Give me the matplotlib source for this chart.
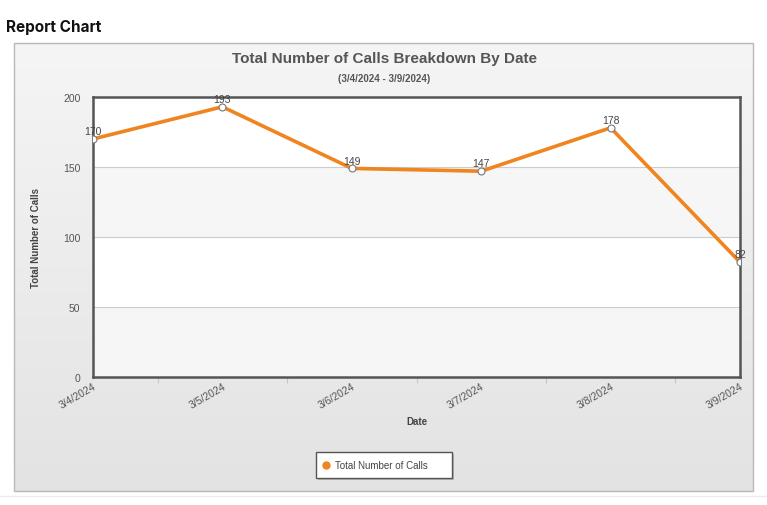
import numpy as np
import matplotlib.pyplot as plt
from matplotlib.patches import Rectangle

dates = ["3/4/2024", "3/5/2024", "3/6/2024", "3/7/2024", "3/8/2024", "3/9/2024"]
calls = [170, 193, 149, 147, 178, 82]
yticks = [0, 50, 100, 150, 200]

W, H = 767, 506
fig = plt.figure(figsize=(W / 100, H / 100), dpi=100)
plt.rcParams['font.family'] = ['Liberation Sans', 'DejaVu Sans']

# background layer in pixel coords
bg = fig.add_axes([0, 0, 1, 1])
bg.set_xlim(0, W)
bg.set_ylim(H, 0)
bg.axis("off")

# panel with vertical gradient
grad = np.linspace(0, 1, 256).reshape(-1, 1)
bg.imshow(grad, extent=(14, 753, 492, 44), cmap=plt.matplotlib.colors.LinearSegmentedColormap.from_list(
    "g", ["#f5f5f5", "#e3e3e3"]), aspect="auto", zorder=0)
bg.add_patch(Rectangle((14, 44), 739, 448, fill=False, edgecolor="#b8b8b8", linewidth=1, zorder=1))
bg.plot([0, W], [497, 497], color="#ececec", linewidth=1)

bg.text(6, 27, "Report Chart", fontsize=11, fontweight="bold", family=["Inter", "DejaVu Sans"],
        va="center", ha="left", color="#111111")
bg.text(384, 59, "Total Number of Calls Breakdown By Date", fontsize=11, fontweight="bold",
        color="#555555", ha="center", va="center")
bg.text(384, 79, "(3/4/2024 - 3/9/2024)", fontsize=7, fontweight="bold",
        color="#555555", ha="center", va="center")

# legend box
bg.add_patch(Rectangle((318, 455), 136, 26, facecolor="#999999", edgecolor="none", alpha=0.6, zorder=2))
bg.add_patch(Rectangle((316, 453), 136, 26, facecolor="white", edgecolor="#555555", linewidth=1, zorder=3))
bg.plot([326], [466], marker="o", markersize=5, color="#f0841e", zorder=4)
bg.text(335, 466.5, "Total Number of Calls", fontsize=7, color="#444444", va="center", ha="left", zorder=4)

# plot area
ax = fig.add_axes([93 / W, (H - 378) / H, 647 / W, 280 / H])
x = np.arange(len(dates))
ax.set_xlim(0, len(dates) - 1)
ax.set_ylim(0, 200)

for i, (lo, hi) in enumerate(zip(yticks[:-1], yticks[1:])):
    ax.axhspan(lo, hi, color="#f6f6f6" if i % 2 == 0 else "white", zorder=0, linewidth=0)
for y in yticks[1:-1]:
    ax.axhline(y, color="#cccccc", linewidth=0.8, zorder=1)

ax.plot(x, calls, color="#f0841e", linewidth=2.6, marker="o", markersize=5,
        markerfacecolor="white", markeredgecolor="#777777", markeredgewidth=0.8, zorder=3)
for xi, v in zip(x, calls):
    ax.annotate(str(v), (xi, v), xytext=(0, 2), textcoords="offset points", ha="center",
                va="bottom", fontsize=7.5, color="#444444", zorder=4, annotation_clip=False)

for s in ax.spines.values():
    s.set_color("#555555")
    s.set_linewidth(1.8)

ax.set_yticks(yticks)
ax.set_yticklabels([str(t) for t in yticks], fontsize=7.5, color="#555555")
ax.tick_params(axis="y", length=0, pad=9)

ax.set_xticks(x)
ax.set_xticklabels(dates, rotation=30, ha="right", rotation_mode="anchor", fontsize=7.5, color="#555555")
ax.tick_params(axis="x", length=0, pad=3)
ax.set_xticks(x[:-1] + 0.5, minor=True)
ax.tick_params(axis="x", which="minor", length=4, color="#b8c8d8", width=0.8)

ax.set_xlabel("Date", fontsize=7, fontweight="bold", color="#444444", labelpad=4)
ax.set_ylabel("Total Number of Calls", fontsize=7, fontweight="bold", color="#444444", labelpad=16)

fig.savefig("out.png", dpi=100)
